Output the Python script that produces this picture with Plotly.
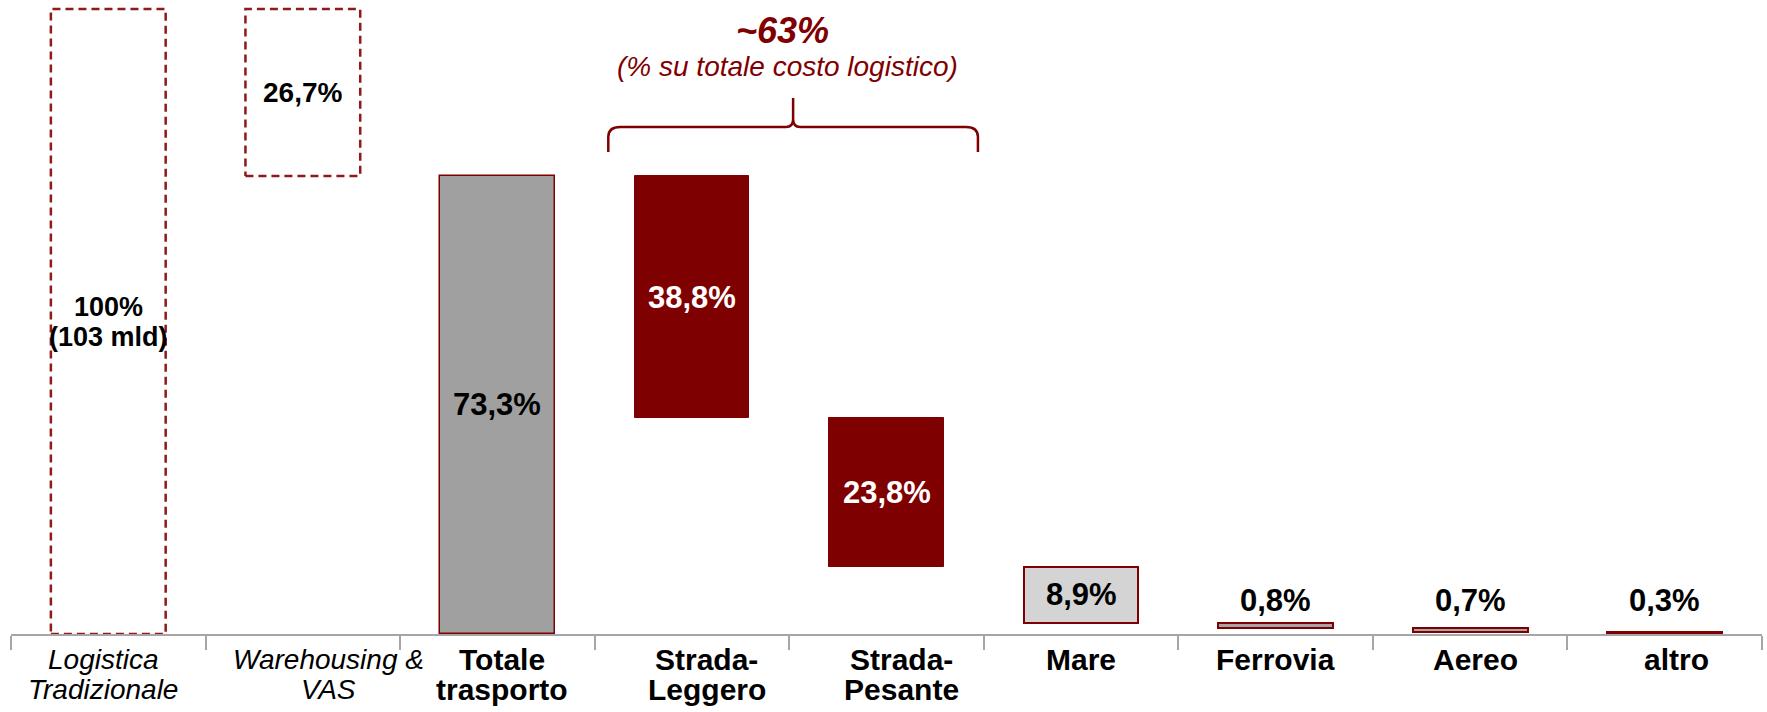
import plotly.graph_objects as go

# ---------------- data ----------------
categories = ["Logistica\nTradizionale", "Warehousing &\nVAS", "Totale\ntrasporto",
              "Strada-\nLeggero", "Strada-\nPesante", "Mare", "Ferrovia", "Aereo", "altro"]
values = [100, 26.7, 73.3, 38.8, 23.8, 8.9, 0.8, 0.7, 0.3]
value_labels = ["100%\n(103 mld)", "26,7%", "73,3%", "38,8%", "23,8%", "8,9%", "0,8%", "0,7%", "0,3%"]
bracket_title = "~63%"
bracket_note = "(% su totale costo logistico)"
bracket_cats = [3, 4]

# ---------------- styling ----------------
RED = "#7F0000"
DASH_RED = "#8E1A1A"
GRAY = "#A0A0A0"
LIGHT = "#D4D4D4"
SMALL = "#A6A6A6"
AXIS = "#A6A6A6"
FONT = "Arial, Liberation Sans, sans-serif"
BAR_W = 0.59

n = len(values)
# waterfall geometry
bases, tops = [], []
running = 0.0
for i, v in enumerate(values):
    if i == 0:
        b = 0.0
    elif i == 1:
        b = values[0] - v
    elif i == 2:
        b = 0.0
        running = v
    else:
        running = running - v
        b = max(running, 0.0)
    bases.append(b)
    tops.append(b + v)

dashed = [True, True] + [False] * (n - 2)
fills = ["rgba(0,0,0,0)", "rgba(0,0,0,0)", GRAY, RED, RED, LIGHT, SMALL, SMALL, SMALL]
line_cols = ["rgba(0,0,0,0)", "rgba(0,0,0,0)", RED, RED, RED, RED, RED, RED, RED]
line_ws = [0, 0, 1.5, 1, 1, 2, 2, 2, 2]
label_colors = ["black", "black", "black", "white", "white", "black", "black", "black", "black"]
label_sizes = [27, 28, 31, 31, 31, 31, 31, 31, 31]
label_inside = [True, True, True, True, True, True, False, False, False]
cat_italic = [True, True] + [False] * (n - 2)
cat_dx = [-5, 26, 5, 15, 15, 0, 0, 5, 12]

fig = go.Figure()

fig.add_trace(go.Bar(
    x=list(range(n)), y=values, base=bases, width=BAR_W,
    marker=dict(color=fills, line=dict(color=line_cols, width=line_ws)),
    hoverinfo="skip", showlegend=False,
))

# dashed outlines for the reference bars
xs, ys = [], []
for i in range(n):
    if dashed[i]:
        l, r = i - BAR_W / 2, i + BAR_W / 2
        xs += [l, r, r, l, l, None]
        ys += [bases[i], bases[i], tops[i], tops[i], bases[i], None]
fig.add_trace(go.Scatter(
    x=xs, y=ys, mode="lines", cliponaxis=False,
    line=dict(color=DASH_RED, width=2.5, dash="8px,5px"),
    hoverinfo="skip", showlegend=False,
))

annotations = []
# value labels
above_y = max(tops[i] for i in range(n) if not label_inside[i])
for i in range(n):
    lines = value_labels[i].split("\n")
    for k, line in enumerate(lines):
        if label_inside[i]:
            y = (bases[i] + tops[i]) / 2
            ysh = (len(lines) - 1) / 2 * 30 - k * 30
            anchor = "middle"
        else:
            y = above_y
            ysh = 3
            anchor = "bottom"
        annotations.append(dict(
            x=i, y=y, xref="x", yref="y", text=f"<b>{line}</b>", showarrow=False,
            yanchor=anchor, yshift=ysh,
            font=dict(family=FONT, size=label_sizes[i], color=label_colors[i]),
        ))

# category labels
for i, cat in enumerate(categories):
    for k, line in enumerate(cat.split("\n")):
        txt = f"<i>{line}</i>" if cat_italic[i] else f"<b>{line}</b>"
        annotations.append(dict(
            x=i, y=0, xref="x", yref="y", text=txt, showarrow=False,
            yanchor="middle", yshift=-25 - 30 * k, xshift=cat_dx[i],
            font=dict(family=FONT, size=28 if cat_italic[i] else 30, color="black"),
        ))

# bracket over the road transport bars
px_per_unit = 6.25
top_group = max(tops[j] for j in bracket_cats)
x0 = bracket_cats[0] - 0.43
x1 = bracket_cats[-1] + 0.47
xm = (x0 + x1) / 2
y_end = top_group + 24 / px_per_unit
y_line = top_group + 49 / px_per_unit
y_peak = top_group + 78 / px_per_unit
dxe = 12 / 194.5
dye = 10 / px_per_unit
dxm = 7 / 194.5
dym = 8 / px_per_unit
path = (f"M {x0},{y_end} L {x0},{y_line - dye} Q {x0},{y_line} {x0 + dxe},{y_line} "
        f"L {xm - dxm},{y_line} Q {xm},{y_line} {xm},{y_line + dym} L {xm},{y_peak} "
        f"M {xm},{y_line + dym} Q {xm},{y_line} {xm + dxm},{y_line} "
        f"L {x1 - dxe},{y_line} Q {x1},{y_line} {x1},{y_line - dye} L {x1},{y_end}")
fig.add_shape(type="path", path=path, xref="x", yref="y",
              line=dict(color=RED, width=2.5), layer="above")

annotations.append(dict(
    x=xm, y=y_peak, xref="x", yref="y", text=f"<b><i>{bracket_title}</i></b>",
    showarrow=False, yanchor="middle", yshift=67, xshift=-11,
    font=dict(family=FONT, size=36, color=RED),
))
annotations.append(dict(
    x=xm, y=y_peak, xref="x", yref="y", text=f"<i>{bracket_note}</i>",
    showarrow=False, yanchor="middle", yshift=31, xshift=-6,
    font=dict(family=FONT, size=28, color=RED),
))

boundaries = [i - 0.5 for i in range(n + 1)]
fig.update_layout(
    width=1767, height=712,
    margin=dict(l=11, r=5, t=0, b=78),
    paper_bgcolor="white", plot_bgcolor="white",
    annotations=annotations,
    bargap=0,
    xaxis=dict(
        range=[-0.5, n - 0.5], showgrid=False, zeroline=False,
        showline=True, linecolor=AXIS, linewidth=2,
        tickmode="array", tickvals=list(range(n)), showticklabels=False, ticks="",
        minor=dict(tickmode="array", tickvals=boundaries, ticks="outside",
                   ticklen=14, tickwidth=2, tickcolor=AXIS, showgrid=False),
    ),
    yaxis=dict(range=[0, 100 * 634 / 625], visible=False, showgrid=False, zeroline=False),
)

fig.write_html("out.html", config={"displayModeBar": False},
               post_script="document.body.style.margin='0';document.body.style.overflow='hidden';")
